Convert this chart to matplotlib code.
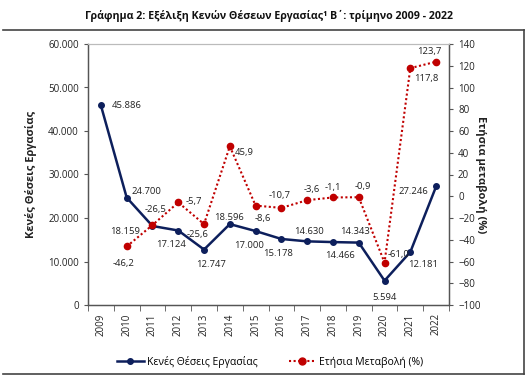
import matplotlib
matplotlib.use("Agg")
import matplotlib.pyplot as plt
from matplotlib.lines import Line2D

plt.rcParams['font.family'] = ['Open Sans', 'DejaVu Sans']

years = ['2009', '2010', '2011', '2012', '2013', '2014', '2015', '2016',
         '2017', '2018', '2019', '2020', '2021', '2022']
vacancies = [45886, 24700, 18159, 17124, 12747, 18596, 17000, 15178,
             14630, 14466, 14343, 5594, 12181, 27246]
vac_labels = ['45.886', '24.700', '18.159', '17.124', '12.747', '18.596', '17.000',
              '15.178', '14.630', '14.466', '14.343', '5.594', '12.181', '27.246']
change_years = years[1:]
change = [-46.2, -26.5, -5.7, -25.6, 45.9, -8.6, -10.7, -3.6, -1.1, -0.9,
          -61.0, 117.8, 123.7]
change_labels = ['-46,2', '-26,5', '-5,7', '-25,6', '45,9', '-8,6', '-10,7',
                 '-3,6', '-1,1', '-0,9', '-61,0', '117,8', '123,7']
left_ticks = [0, 10000, 20000, 30000, 40000, 50000, 60000]
left_tick_labels = ['0', '10.000', '20.000', '30.000', '40.000', '50.000', '60.000']
right_ticks = list(range(-100, 141, 20))

title = 'Γράφημα 2: Εξέλιξη Κενών Θέσεων Εργασίας¹ Β΄: τρίμηνο 2009 - 2022'
ylabel_left = 'Κενές Θέσεις Εργασίας'
ylabel_right = 'Ετήσια μεταβολή (%)'
legend_labels = ['Κενές Θέσεις Εργασίας', 'Ετήσια Μεταβολή (%)']

BLUE = '#0d1f5c'
RED = '#c00000'
TXT = '#222222'

W, H = 532, 387
fig = plt.figure(figsize=(W / 100, H / 100), dpi=100)
ax = fig.add_axes([88 / W, 1 - 305 / H, (449 - 88) / W, (305 - 44) / H])
ax2 = ax.twinx()

x = list(range(len(years)))
xc = x[1:]

ax.plot(x, vacancies, color=BLUE, lw=1.8, marker='o', ms=4, zorder=3)
ax2.plot(xc, change, color=RED, lw=1.5, ls=(0, (1, 1.2)), marker='o', ms=4.5, zorder=3)

ax.set_xlim(-0.5, len(years) - 0.5)
ax.set_ylim(0, 60000)
ax2.set_ylim(-100, 140)
ax.set_yticks(left_ticks)
ax.set_yticklabels(left_tick_labels)
ax2.set_yticks(right_ticks)

ax.set_xticks(x)
ax.set_xticklabels(years, rotation=90, fontsize=7, color=TXT)
ax.set_xticks([i - 0.5 for i in range(len(years) + 1)], minor=True)
ax.tick_params(axis='x', which='major', length=0, pad=6)
ax.tick_params(axis='x', which='minor', length=4, direction='out', color='#555555')
ax.tick_params(axis='y', labelsize=7, length=3, color='#555555', labelcolor=TXT)
ax2.tick_params(axis='y', labelsize=7, length=3, color='#555555', labelcolor=TXT)

for a in (ax, ax2):
    for s in ['left', 'bottom', 'right']:
        a.spines[s].set_color('#555555')
        a.spines[s].set_linewidth(0.9)
    a.spines['top'].set_color('#bbbbbb')
    a.spines['top'].set_linewidth(0.8)

ax.set_ylabel(ylabel_left, fontsize=8, fontweight='bold', color=TXT, labelpad=8)
ax2.set_ylabel(ylabel_right, fontsize=8, fontweight='bold', color=TXT, rotation=-90, labelpad=4)

vac_off = [(11, 0, 'left', 'center'), (5, 6, 'left', 'center'), (-12, -5, 'right', 'center'),
           (-7, -14, 'center', 'center'), (7, -15, 'center', 'center'), (-1, 7, 'center', 'center'),
           (-7, -14, 'center', 'center'), (-3, -15, 'center', 'center'), (2, 10, 'center', 'center'),
           (7, -13, 'center', 'center'), (-4, 11, 'center', 'center'), (0, -17, 'center', 'center'),
           (13, -12, 'center', 'center'), (-23, -5, 'center', 'center')]
chg_off = [(-3, -17), (3, 16), (16, 1), (-6, -10), (14, -6), (7, -13), (-2, 12),
           (5, 11), (0, 10), (4, 11), (14, 8), (16, -10), (-7, 10)]

for xi, v, lab, (dx, dy, ha, va) in zip(x, vacancies, vac_labels, vac_off):
    ax.annotate(lab, (xi, v), xytext=(dx, dy), textcoords='offset pixels',
                ha=ha, va=va, fontsize=6.8, color=TXT, zorder=5)
for xi, v, lab, (dx, dy) in zip(xc, change, change_labels, chg_off):
    ax2.annotate(lab, (xi, v), xytext=(dx, dy), textcoords='offset pixels',
                 ha='center', va='center', fontsize=6.8, color=TXT, zorder=5)

fig.text(269 / W, 1 - 16 / H, title, ha='center', va='center', fontsize=7.7,
         fontweight='bold', color='#111111')

# outer frame
frame_col = '#444444'
fig.add_artist(Line2D([3 / W, 524 / W], [1 - 30 / H, 1 - 30 / H], transform=fig.transFigure, color=frame_col, lw=1.2))
fig.add_artist(Line2D([3 / W, 524 / W], [1 - 374 / H, 1 - 374 / H], transform=fig.transFigure, color=frame_col, lw=1.2))
fig.add_artist(Line2D([524 / W, 524 / W], [1 - 30 / H, 1 - 374 / H], transform=fig.transFigure, color=frame_col, lw=1.2))

handles = [Line2D([], [], color=BLUE, lw=1.8, marker='o', ms=4),
           Line2D([], [], color=RED, lw=1.5, ls=(0, (1, 1.2)), marker='o', ms=5)]
fig.legend(handles, legend_labels, loc='center', bbox_to_anchor=(270 / W, 1 - 362 / H),
           ncol=2, frameon=False, fontsize=7.5, handlelength=2.6, columnspacing=3.0,
           handletextpad=0.3)

fig.savefig('out.png', dpi=100)
